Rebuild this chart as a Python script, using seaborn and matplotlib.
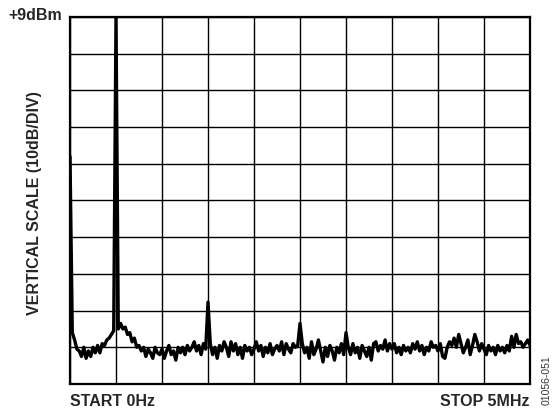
import numpy as np
import pandas as pd
import matplotlib
matplotlib.use("Agg")
import matplotlib.pyplot as plt
import seaborn as sns

# spectrum trace, 0 to 5 MHz in 0.025 MHz steps, level in dBm
freq_step = 0.025
level_dbm = [
    -29, -77, -79, -81.5, -82, -83.5, -81, -84, -82, -83.5,
    -81, -82.5, -80.5, -82.5, -80, -80.5, -79, -78.5, -77.5, -76.5,
    9, -76, -74.5, -76, -75.5, -77.5, -77, -79.5, -78.5, -81,
    -80.5, -82, -81, -83.5, -81.5, -82.5, -84, -81, -82.5, -83,
    -81.5, -84, -82, -80.5, -83, -82, -84.5, -81, -82.5, -81,
    -83, -80.5, -82, -81, -79.5, -82, -80.5, -83, -80, -81.5,
    -68.7, -80, -83, -81, -84, -80.5, -82, -79.5, -81, -83.5,
    -79.5, -82, -80, -83, -81, -84, -80.5, -82, -81, -83,
    -81.5, -79.5, -82, -80.5, -83.5, -81, -82.5, -80, -83, -81.5,
    -80.5, -82, -79.5, -83, -80, -81.5, -82.5, -80, -81, -80.5,
    -74.5, -80, -82.5, -81, -84, -79.5, -83, -81.5, -79, -82,
    -85, -81, -83.5, -80.5, -82, -84.5, -81, -82.5, -80, -83,
    -77, -81, -83, -80, -82.5, -81, -84, -80.5, -82, -83.5,
    -81, -84.5, -80, -79.5, -82, -80.5, -81.5, -79, -82, -80,
    -81.5, -80, -82.5, -81, -83, -80.5, -82, -81, -82.5, -80,
    -81.5, -79.5, -82, -80.5, -83, -81, -82, -79.5, -81, -80.5,
    -82, -80, -83.5, -84, -81, -79.5, -80.5, -78.5, -81, -77.5,
    -80, -82.5, -81, -79, -83, -80.5, -77.5, -79.5, -82, -80,
    -81.5, -83, -80.5, -82, -81, -83, -80.5, -82, -81, -82.5,
    -80.5, -82, -78, -81, -77.5, -80, -79.5, -81, -80, -79,
    -80.5,
]
ref_level = 9
db_per_div = 10
stop_mhz = 5

df = pd.DataFrame({"freq": np.arange(len(level_dbm)) * freq_step, "level": level_dbm})

sns.set_style("white")
plt.rcParams["font.family"] = ["Liberation Sans", "DejaVu Sans"]

fig = plt.figure(figsize=(5.57, 4.15), dpi=100)
ax = fig.add_axes([70 / 557, 31 / 415, 460 / 557, 367 / 415])

sns.lineplot(data=df, x="freq", y="level", ax=ax, color="black", linewidth=2.4)

ax.set_xlim(0, stop_mhz)
ax.set_ylim(ref_level - 10 * db_per_div, ref_level)
ax.set_xticks(np.linspace(0, stop_mhz, 11))
ax.set_yticks(np.linspace(ref_level - 10 * db_per_div, ref_level, 11))
ax.tick_params(length=0, labelbottom=False, labelleft=False)
ax.grid(True, color="black", linewidth=1.0)
ax.set_xlabel("")
ax.set_ylabel("")
for s in ax.spines.values():
    s.set_color("black")
    s.set_linewidth(1.6)

fig.text(62 / 557, 1 - 15 / 415, "+9dBm", ha="right", va="center",
         fontsize=11.5, fontweight="bold")
fig.text(35 / 557, 1 - 203 / 415, "VERTICAL SCALE (10dB/DIV)", rotation=90,
         ha="center", va="center", fontsize=11.5, fontweight="bold")
fig.text(70 / 557, 1 - 401 / 415, "START 0Hz", ha="left", va="center",
         fontsize=11.5, fontweight="bold")
fig.text(530 / 557, 1 - 401 / 415, "STOP 5MHz", ha="right", va="center",
         fontsize=11.5, fontweight="bold")
fig.text(547 / 557, 1 - 380 / 415, "01056-051", rotation=90, ha="center",
         va="center", fontsize=7.5, color="#333333")

fig.savefig("out.png", dpi=100)
